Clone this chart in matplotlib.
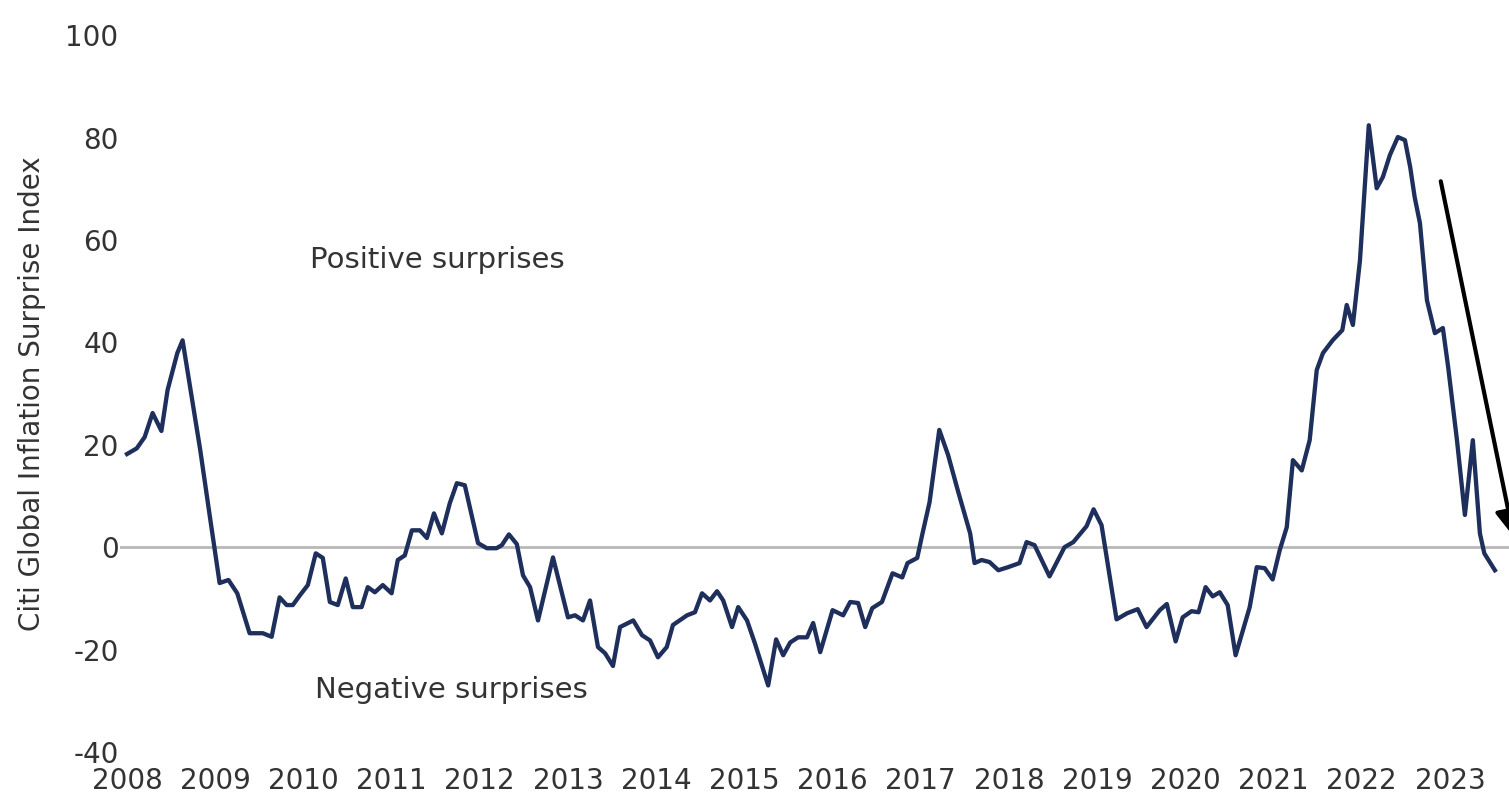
import numpy as np
import matplotlib
matplotlib.use("Agg")
import matplotlib.pyplot as plt

plt.rcParams['axes.unicode_minus'] = False

# Citi Global Inflation Surprise Index
years = [2008.00, 2008.11, 2008.20, 2008.29, 2008.39, 2008.46, 2008.57, 2008.63, 2008.83, 2008.94,
         2009.05, 2009.15, 2009.25, 2009.39, 2009.54, 2009.64, 2009.73, 2009.81, 2009.88, 2009.96,
         2010.05, 2010.14, 2010.22, 2010.30, 2010.39, 2010.48, 2010.56, 2010.66, 2010.73, 2010.81,
         2010.90, 2011.00, 2011.07, 2011.15, 2011.23, 2011.32, 2011.40, 2011.48, 2011.57, 2011.66,
         2011.74, 2011.83, 2011.98, 2012.08, 2012.19, 2012.25, 2012.33, 2012.42, 2012.49, 2012.57,
         2012.66, 2012.83, 2013.00, 2013.08, 2013.17, 2013.25, 2013.34, 2013.42, 2013.51, 2013.59,
         2013.74, 2013.84, 2013.93, 2014.02, 2014.12, 2014.19, 2014.35, 2014.44, 2014.52, 2014.61,
         2014.69, 2014.76, 2014.86, 2014.93, 2015.03, 2015.12, 2015.27, 2015.36, 2015.44, 2015.52,
         2015.61, 2015.71, 2015.78, 2015.86, 2015.94, 2016.00, 2016.12, 2016.20, 2016.29, 2016.37,
         2016.45, 2016.56, 2016.68, 2016.79, 2016.85, 2016.96, 2017.02, 2017.10, 2017.21, 2017.31,
         2017.42, 2017.56, 2017.61, 2017.69, 2017.78, 2017.88, 2017.99, 2018.12, 2018.20, 2018.29,
         2018.46, 2018.63, 2018.73, 2018.88, 2018.96, 2019.05, 2019.22, 2019.34, 2019.46, 2019.56,
         2019.71, 2019.79, 2019.89, 2019.97, 2020.07, 2020.15, 2020.23, 2020.31, 2020.39, 2020.48,
         2020.57, 2020.73, 2020.81, 2020.90, 2020.99, 2021.07, 2021.15, 2021.22, 2021.32, 2021.41,
         2021.49, 2021.56, 2021.67, 2021.78, 2021.83, 2021.90, 2021.98, 2022.08, 2022.17, 2022.24,
         2022.32, 2022.41, 2022.49, 2022.55, 2022.60, 2022.66, 2022.74, 2022.83, 2022.92, 2022.98,
         2023.08, 2023.17, 2023.26, 2023.34, 2023.39, 2023.51]
index_values = [18.2, 19.3, 21.5, 26.2, 22.7, 30.7, 37.9, 40.4, 19.0, 5.9,
                -7.0, -6.4, -9.0, -16.8, -16.8, -17.5, -9.8, -11.3, -11.3, -9.4,
                -7.4, -1.2, -2.1, -10.7, -11.3, -6.1, -11.7, -11.7, -7.8, -8.8,
                -7.4, -9.0, -2.5, -1.6, 3.3, 3.3, 1.8, 6.6, 2.7, 8.6,
                12.5, 12.1, 0.8, -0.2, -0.2, 0.4, 2.5, 0.6, -5.5, -7.8,
                -14.3, -2.0, -13.7, -13.3, -14.3, -10.4, -19.5, -20.7, -23.2, -15.6,
                -14.3, -17.2, -18.2, -21.5, -19.5, -15.2, -13.3, -12.7, -9.0, -10.4,
                -8.6, -10.4, -15.6, -11.7, -14.3, -18.8, -27.0, -18.0, -21.1, -18.6,
                -17.6, -17.6, -14.8, -20.5, -15.8, -12.3, -13.3, -10.7, -10.9, -15.6,
                -11.9, -10.7, -5.1, -5.9, -3.1, -2.1, 2.7, 8.8, 22.9, 18.0,
                11.1, 2.7, -3.1, -2.5, -2.9, -4.5, -3.9, -3.1, 1.0, 0.4,
                -5.7, 0.0, 1.0, 4.1, 7.4, 4.3, -14.1, -12.9, -12.1, -15.6,
                -12.3, -11.1, -18.4, -13.7, -12.5, -12.7, -7.8, -9.6, -8.8, -11.3,
                -21.1, -11.7, -3.9, -4.1, -6.3, -0.6, 3.9, 17.0, 15.0, 20.9,
                34.6, 37.9, 40.4, 42.4, 47.3, 43.4, 56.0, 82.4, 70.1, 72.3,
                76.6, 80.1, 79.5, 74.2, 68.4, 63.3, 48.2, 41.8, 42.8, 35.2,
                20.9, 6.3, 20.9, 2.7, -1.2, -4.5]

tick_years = list(range(2008, 2024))
y_ticks = [-40, -20, 0, 20, 40, 60, 80, 100]

navy = '#1f2f5c'
txt = '#333333'

fig = plt.figure(figsize=(15.09, 7.99), dpi=100)
ax = fig.add_axes([0.0795, 0.0588, 0.9205, 0.8972])

ax.axhline(0, color='#b8b8b8', lw=2, zorder=1)
ax.plot(years, index_values, color=navy, lw=3.1, solid_joinstyle='round', zorder=3)

# downward trend arrow
ax.annotate('', xy=(2023.73, 1.5), xytext=(2022.89, 72),
            arrowprops=dict(arrowstyle='-|>', color='black', lw=3, mutation_scale=40),
            annotation_clip=False, zorder=4)

ax.text(2010.07, 56, 'Positive surprises', fontsize=21, color=txt, va='center', ha='left')
ax.text(2010.13, -27.9, 'Negative surprises', fontsize=21, color=txt, va='center', ha='left')

ax.set_xlim(2007.92, 2023.67)
ax.set_ylim(-40, 100)
ax.set_xticks(tick_years)
ax.set_xticklabels([str(y) for y in tick_years])
ax.set_yticks(y_ticks)
ax.tick_params(axis='x', length=0, labelsize=20, labelcolor=txt, pad=11)
ax.tick_params(axis='y', length=0, labelsize=20, labelcolor=txt, pad=1)
ax.set_ylabel('Citi Global Inflation Surprise Index', fontsize=20, color=txt, labelpad=14)
for s in ax.spines.values():
    s.set_visible(False)

plt.savefig('out.png', dpi=100)
